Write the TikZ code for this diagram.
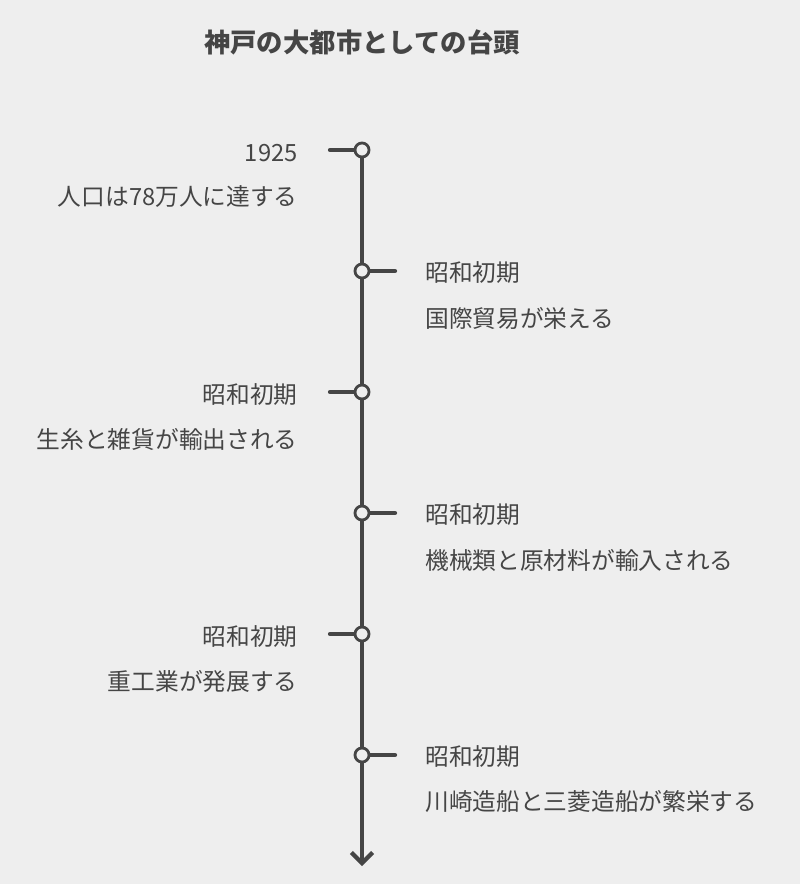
\documentclass[tikz,border=0pt]{standalone}
\usepackage{fontspec}
\setmainfont{Noto Sans CJK JP}
\usetikzlibrary{arrows.meta}
\definecolor{inkgray}{HTML}{454545}
\definecolor{paper}{HTML}{EEEEEE}
\begin{document}
\begin{tikzpicture}[x=0.02cm,y=-0.02cm,
	eventtext/.style={text=inkgray,font=\fontsize{13.5}{16}\selectfont,inner sep=0pt},
	titletext/.style={text=inkgray,font=\fontsize{15}{18}\selectfont\bfseries,inner sep=0pt},
	axisline/.style={draw=inkgray,line width=2.4pt,line cap=round},
	dotmark/.style={circle,draw=inkgray,line width=1.6pt,fill=paper,minimum size=8pt,inner sep=0pt}
]
\fill[paper] (0,0) rectangle (800,884);
\useasboundingbox (0,0) rectangle (800,884);

\node[titletext] (title) at (362,42) {神戸の大都市としての台頭};

\coordinate (top) at (362,150);
\coordinate (bottom) at (362,866);
\draw[axisline,-{Straight Barb[length=6pt,width=12pt]}] (top) -- (bottom);

% left events: y, date, text
\foreach \y/\date/\desc [count=\i] in {150/1925/人口は78万人に達する, 392/昭和初期/生糸と雑貨が輸出される, 634/昭和初期/重工業が発展する} {
	\coordinate (L\i) at (330,\y);
	\node[dotmark] (Ldot\i) at (362,\y) {};
	\draw[axisline] (L\i) -- (Ldot\i);
	\node[eventtext,anchor=east] (Ldate\i) at (298,\y+3) {\date};
	\node[eventtext,anchor=east] (Ldesc\i) at (298,\y+47) {\desc};
}

% right events
\foreach \y/\date/\desc [count=\i] in {271/昭和初期/国際貿易が栄える, 513/昭和初期/機械類と原材料が輸入される, 755/昭和初期/川崎造船と三菱造船が繁栄する} {
	\coordinate (R\i) at (395,\y);
	\node[dotmark] (Rdot\i) at (362,\y) {};
	\draw[axisline] (Rdot\i) -- (R\i);
	\node[eventtext,anchor=west] (Rdate\i) at (425,\y+2) {\date};
	\node[eventtext,anchor=west] (Rdesc\i) at (425,\y+47) {\desc};
}
\end{tikzpicture}
\end{document}
